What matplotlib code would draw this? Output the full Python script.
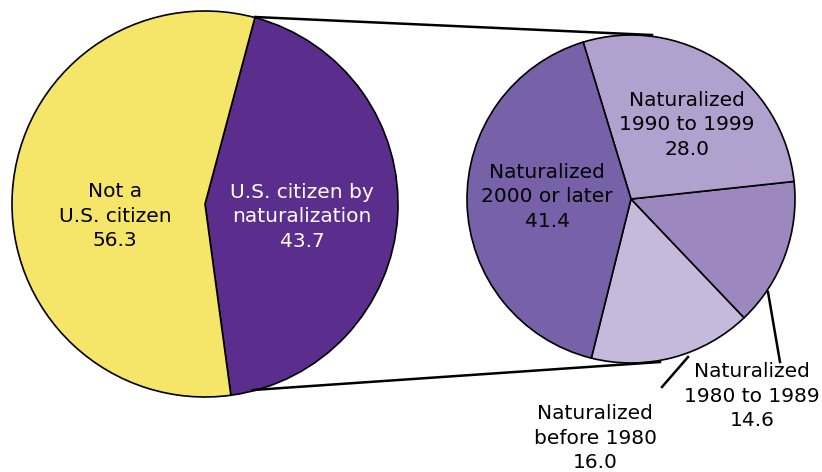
import matplotlib.pyplot as plt

# left pie: citizenship status
left_labels = ["U.S. citizen by\nnaturalization", "Not a\nU.S. citizen"]
left_values = [43.7, 56.3]
left_colors = ["#5B2E8E", "#F5E66A"]

# right pie: year of naturalization
right_labels = ["Naturalized\nbefore 1980", "Naturalized\n1980 to 1989",
                "Naturalized\n1990 to 1999", "Naturalized\n2000 or later"]
right_values = [16.0, 14.6, 28.0, 41.4]
right_colors = ["#C5BADC", "#9D87BF", "#B0A1CE", "#7761A8"]

W, H = 822, 472
fig = plt.figure(figsize=(W / 100, H / 100), dpi=100)
ax = fig.add_axes([0, 0, 1, 1])

def py(y):
    # pixel row -> data y
    return H - y

wp = dict(edgecolor="black", linewidth=1.2)
ax.pie(left_values, colors=left_colors, startangle=-82.3, counterclock=True,
       center=(205, py(204)), radius=193, wedgeprops=wp, frame=True)
ax.pie(right_values, colors=right_colors, startangle=-104.0, counterclock=True,
       center=(631, py(199)), radius=164, wedgeprops=wp, frame=True)
ax.set_xlim(0, W)
ax.set_ylim(0, H)
ax.set_aspect("equal")
ax.axis("off")

# connector lines between the two pies
ax.plot([255, 652], [py(17), py(35)], color="black", lw=1.8)
ax.plot([253, 660], [py(390), py(362)], color="black", lw=1.8)

# leader lines for outside labels
ax.plot([768, 780], [py(292), py(362)], color="black", lw=1.8)
ax.plot([688, 662], [py(357), py(387)], color="black", lw=1.8)

fs = 14.5
ls = 1.36
ax.text(115, py(216), left_labels[1] + "\n%.1f" % left_values[1], ha="center", va="center",
        fontsize=fs, linespacing=ls, color="black")
ax.text(302, py(217), left_labels[0] + "\n%.1f" % left_values[0], ha="center", va="center",
        fontsize=fs, linespacing=ls, color="white")

ax.text(687, py(125), right_labels[2] + "\n%.1f" % right_values[2], ha="center", va="center",
        fontsize=fs, linespacing=ls)
ax.text(547, py(197), right_labels[3] + "\n%.1f" % right_values[3], ha="center", va="center",
        fontsize=fs, linespacing=ls)
ax.text(752, py(396), right_labels[1] + "\n%.1f" % right_values[1], ha="center", va="center",
        fontsize=fs, linespacing=ls)
ax.text(595, py(438), right_labels[0] + "\n%.1f" % right_values[0], ha="center", va="center",
        fontsize=fs, linespacing=ls)

fig.savefig("out.png", dpi=100)
